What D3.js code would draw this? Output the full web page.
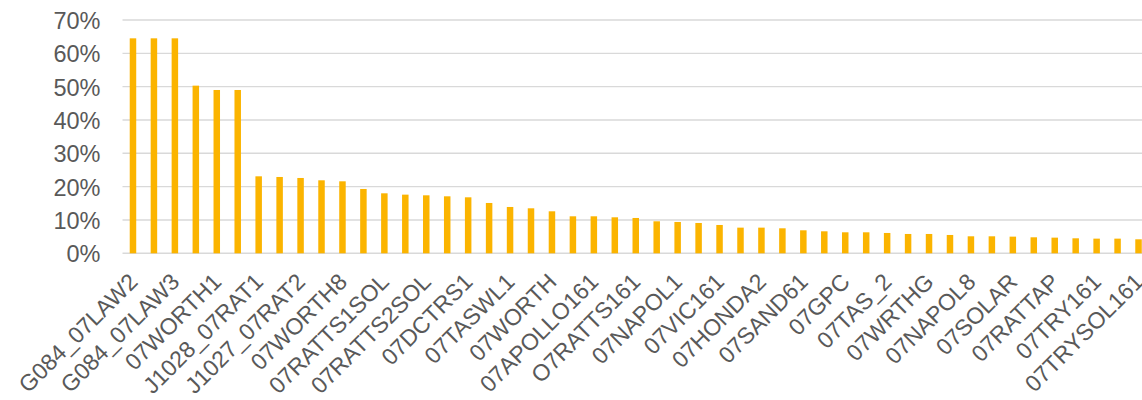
<!DOCTYPE html>
<html>
<head>
<meta charset="utf-8">
<script src="https://cdn.jsdelivr.net/npm/d3@7"></script>
<style>
  html, body { margin: 0; padding: 0; background: #fff; overflow: hidden; }
  svg { display: block; }
  text { font-family: "Liberation Sans", Arial, sans-serif; fill: #595959; }
</style>
</head>
<body>
<svg id="chart" width="1142" height="400"></svg>
<script>
// Every other category carries a printed name; the rest stay unlabelled on the axis.
const categories = [
  "G084_07LAW2", "", "G084_07LAW3", "", "07WORTH1", "", "J1028_07RAT1", "",
  "J1027_07RAT2", "", "07WORTH8", "", "07RATTS1SOL", "", "07RATTS2SOL", "",
  "07DCTRS1", "", "07TASWL1", "", "07WORTH", "", "07APOLLO161", "",
  "O7RATTS161", "", "07NAPOL1", "", "07VIC161", "", "07HONDA2", "",
  "07SAND61", "", "07GPC", "", "07TAS_2", "", "07WRTHG", "",
  "07NAPOL8", "", "07SOLAR", "", "07RATTAP", "", "07TRY161", "",
  "07TRYSOL161"
];

const values = [
  0.645, 0.645, 0.645, 0.503, 0.490, 0.490, 0.231, 0.229, 0.226, 0.219,
  0.216, 0.193, 0.180, 0.176, 0.174, 0.171, 0.168, 0.151, 0.139, 0.135,
  0.126, 0.111, 0.111, 0.108, 0.106, 0.096, 0.094, 0.091, 0.085, 0.077,
  0.077, 0.075, 0.069, 0.066, 0.063, 0.063, 0.061, 0.058, 0.058, 0.055,
  0.051, 0.051, 0.050, 0.048, 0.047, 0.045, 0.044, 0.044, 0.042
];

const yTicks = [0, 0.1, 0.2, 0.3, 0.4, 0.5, 0.6, 0.7];

const svg = d3.select("#chart");

const plot = { left: 122.5, right: 1149, top: 20, bottom: 253.3 };

const x = d3.scaleBand()
  .domain(d3.range(values.length))
  .range([plot.left, plot.right])
  .paddingInner(0.69)
  .paddingOuter(0.345);

const y = d3.scaleLinear()
  .domain([0, 0.7])
  .range([plot.bottom, plot.top]);

// Horizontal gridlines
svg.append("g")
  .selectAll("line")
  .data(yTicks)
  .join("line")
  .attr("x1", plot.left)
  .attr("x2", plot.right)
  .attr("y1", d => y(d))
  .attr("y2", d => y(d))
  .attr("stroke", "#d9d9d9")
  .attr("stroke-width", 1.4);

// Y axis labels
const yAxis = d3.axisLeft(y)
  .tickValues(yTicks)
  .tickFormat(d3.format(".0%"))
  .tickSize(0)
  .tickPadding(0);

svg.append("g")
  .attr("transform", `translate(${plot.left - 22},0)`)
  .call(yAxis)
  .call(g => g.select(".domain").remove())
  .selectAll("text")
  .attr("font-size", 23.5)
  .attr("fill", "#595959")
  .attr("dy", "0.36em")
  .style("font-family", "'Liberation Sans', Arial, sans-serif");

// Bars
svg.append("g")
  .selectAll("rect")
  .data(values)
  .join("rect")
  .attr("x", (d, i) => x(i))
  .attr("width", x.bandwidth())
  .attr("y", d => y(d))
  .attr("height", d => y(0) - y(d))
  .attr("fill", "#FBB400");

// X axis with rotated category names
const xAxis = d3.axisBottom(x)
  .tickValues(d3.range(values.length).filter(i => categories[i] !== ""))
  .tickFormat(i => categories[i])
  .tickSize(0)
  .tickPadding(0);

svg.append("g")
  .attr("transform", `translate(0,${plot.bottom})`)
  .call(xAxis)
  .call(g => g.select(".domain").remove())
  .selectAll("text")
  .attr("font-size", 23)
  .attr("fill", "#595959")
  .attr("text-anchor", "end")
  .attr("dy", null)
  .attr("y", null)
  .attr("transform", "translate(6,30) rotate(-45)")
  .style("font-family", "'Liberation Sans', Arial, sans-serif");
</script>
</body>
</html>
